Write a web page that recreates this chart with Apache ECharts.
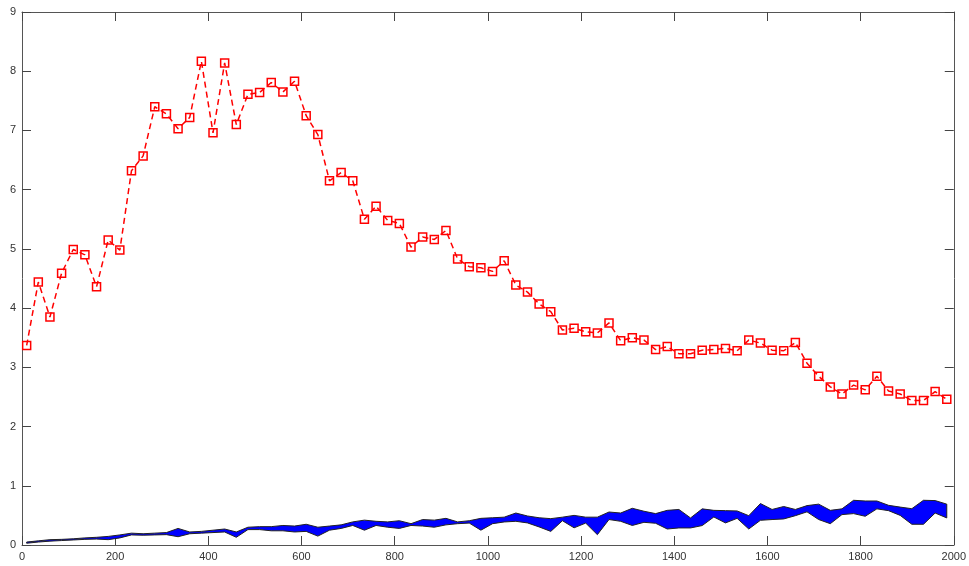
<!DOCTYPE html>
<html>
<head>
<meta charset="utf-8">
<script src="https://cdn.jsdelivr.net/npm/echarts@6/dist/echarts.min.js"></script>
<style>
  html, body { margin: 0; padding: 0; background: #fff; }
  #chart { width: 969px; height: 566px; }
</style>
</head>
<body>
<div id="chart"></div>
<script>
// Sample positions shared by the curve and the band
const xValues = [
  10, 35, 60, 85, 110, 135, 160, 185, 210, 235,
  260, 285, 310, 335, 360, 385, 410, 435, 460, 485,
  510, 535, 560, 585, 610, 635, 660, 685, 710, 735,
  760, 785, 810, 835, 860, 885, 910, 935, 960, 985,
  1010, 1035, 1060, 1085, 1110, 1135, 1160, 1185, 1210, 1235,
  1260, 1285, 1310, 1335, 1360, 1385, 1410, 1435, 1460, 1485,
  1510, 1535, 1560, 1585, 1610, 1635, 1660, 1685, 1710, 1735,
  1760, 1785, 1810, 1835, 1860, 1885, 1910, 1935, 1960, 1985
];

// Red dashed curve with square markers
const curveValues = [
  3.37, 4.44, 3.85, 4.59, 4.99, 4.90, 4.36, 5.15, 4.98, 6.32,
  6.57, 7.40, 7.28, 7.03, 7.22, 8.17, 6.96, 8.14, 7.10, 7.61,
  7.64, 7.81, 7.65, 7.83, 7.25, 6.93, 6.15, 6.29, 6.15, 5.50,
  5.72, 5.48, 5.43, 5.03, 5.20, 5.16, 5.31, 4.83, 4.70, 4.68,
  4.62, 4.80, 4.39, 4.27, 4.07, 3.94, 3.63, 3.66, 3.60, 3.58,
  3.75, 3.45, 3.50, 3.46, 3.30, 3.35, 3.23, 3.23, 3.29, 3.30,
  3.32, 3.28, 3.46, 3.41, 3.29, 3.28, 3.42, 3.07, 2.85, 2.67,
  2.55, 2.70, 2.62, 2.85, 2.60, 2.55, 2.44, 2.44, 2.59, 2.46
];

// Blue band: upper and lower edges
const bandUpper = [
  0.05, 0.07, 0.09, 0.095, 0.105, 0.12, 0.13, 0.145, 0.17, 0.20,
  0.19, 0.20, 0.21, 0.28, 0.22, 0.23, 0.25, 0.27, 0.22, 0.30,
  0.31, 0.31, 0.33, 0.32, 0.35, 0.30, 0.32, 0.34, 0.39, 0.42,
  0.40, 0.39, 0.41, 0.36, 0.43, 0.42, 0.45, 0.39, 0.41, 0.45,
  0.46, 0.47, 0.54, 0.49, 0.46, 0.445, 0.47, 0.50, 0.47, 0.47,
  0.557, 0.54, 0.62, 0.57, 0.53, 0.585, 0.60, 0.457, 0.61, 0.585,
  0.58, 0.575, 0.495, 0.70, 0.60, 0.65, 0.60, 0.665, 0.69, 0.585,
  0.61, 0.755, 0.743, 0.743, 0.67, 0.64, 0.613, 0.755, 0.75, 0.69
];
const bandLower = [
  0.03, 0.05, 0.065, 0.075, 0.085, 0.095, 0.10, 0.09, 0.12, 0.17,
  0.165, 0.17, 0.175, 0.14, 0.19, 0.20, 0.21, 0.22, 0.13, 0.26,
  0.26, 0.24, 0.24, 0.22, 0.23, 0.15, 0.25, 0.28, 0.33, 0.25,
  0.33, 0.30, 0.28, 0.33, 0.32, 0.30, 0.34, 0.36, 0.37, 0.25,
  0.36, 0.389, 0.40, 0.373, 0.305, 0.23, 0.41, 0.29, 0.37, 0.175,
  0.43, 0.40, 0.33, 0.383, 0.367, 0.27, 0.288, 0.288, 0.328, 0.473,
  0.373, 0.45, 0.27, 0.417, 0.43, 0.44, 0.495, 0.56, 0.43, 0.36,
  0.513, 0.53, 0.485, 0.61, 0.58, 0.50, 0.35, 0.35, 0.54, 0.457
];

const xTicks = ['0', '200', '400', '600', '800', '1000', '1200', '1400', '1600', '1800', '2000'];
const yTicks = ['0', '1', '2', '3', '4', '5', '6', '7', '8', '9'];

const labelFont = {
  color: '#333',
  fontSize: 11,
  fontFamily: '"Liberation Sans Narrow", "Arial Narrow", "Liberation Sans", Arial, sans-serif'
};
const axisLine = { show: true, onZero: false, lineStyle: { color: '#555', width: 1 } };
const tickIn = { show: true, inside: true, length: 9, lineStyle: { color: '#444', width: 1 } };

const chart = echarts.init(document.getElementById('chart'), null, { renderer: 'canvas' });

chart.setOption({
  animation: false,
  backgroundColor: '#fff',
  grid: { left: 22, right: 12, top: 12, bottom: 21, containLabel: false },
  xAxis: [
    {
      type: 'value', min: 0, max: 2000, interval: 200, position: 'bottom',
      axisLine: axisLine, axisTick: tickIn, splitLine: { show: false },
      axisLabel: Object.assign({ margin: 6, formatter: (v) => xTicks[Math.round(v / 200)] }, labelFont)
    },
    {
      type: 'value', min: 0, max: 2000, interval: 200, position: 'top',
      axisLine: axisLine, axisTick: tickIn, splitLine: { show: false },
      axisLabel: { show: false }
    }
  ],
  yAxis: [
    {
      type: 'value', min: 0, max: 9, interval: 1, position: 'left',
      axisLine: axisLine, axisTick: tickIn, splitLine: { show: false },
      axisLabel: Object.assign({ margin: 6, formatter: (v) => yTicks[Math.round(v)] }, labelFont)
    },
    {
      type: 'value', min: 0, max: 9, interval: 1, position: 'right',
      axisLine: axisLine, axisTick: tickIn, splitLine: { show: false },
      axisLabel: { show: false }
    }
  ],
  series: [
    {
      // filled band between bandLower and bandUpper
      type: 'custom',
      xAxisIndex: 0,
      yAxisIndex: 0,
      data: [[0]],
      silent: true,
      renderItem: function (params, api) {
        const pts = [];
        for (let i = 0; i < xValues.length; i++) {
          pts.push(api.coord([xValues[i], bandUpper[i]]));
        }
        for (let i = xValues.length - 1; i >= 0; i--) {
          pts.push(api.coord([xValues[i], bandLower[i]]));
        }
        return {
          type: 'polygon',
          shape: { points: pts },
          style: { fill: '#0000ff', stroke: '#222', lineWidth: 1 }
        };
      }
    },
    {
      type: 'line',
      xAxisIndex: 0,
      yAxisIndex: 0,
      data: xValues.map((x, i) => [x, curveValues[i]]),
      symbol: 'rect',
      symbolSize: 8,
      showAllSymbol: true,
      lineStyle: { color: '#ff0000', width: 1.5, type: [6, 4] },
      itemStyle: { color: 'rgba(255,255,255,0)', borderColor: '#ff0000', borderWidth: 1.5 },
      emphasis: { disabled: true }
    }
  ]
});
</script>
</body>
</html>
